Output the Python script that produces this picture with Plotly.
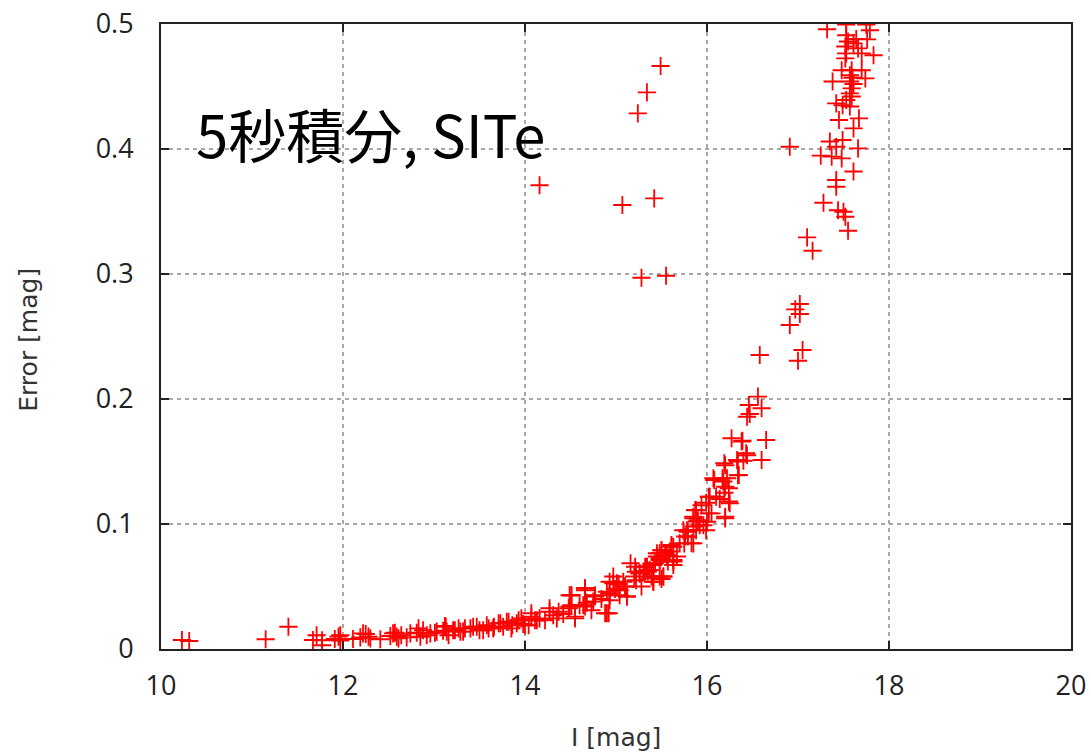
import plotly.graph_objects as go

# Photometric error vs I magnitude (5 s integration, SITe CCD)
i_mag = [
    10.23, 10.31, 11.15, 11.40, 11.67, 11.71, 11.77, 11.77, 11.91, 11.95, 11.97, 11.97,
    12.11, 12.19, 12.25, 12.30, 12.41, 12.52, 12.57, 12.61, 12.70, 12.81, 12.85, 12.88,
    12.92, 13.01, 13.10, 13.13, 13.16, 13.23, 13.29, 13.34,
    12.22, 12.28, 12.55, 12.59, 12.64, 12.74, 12.83, 12.96, 13.03, 13.12, 13.14, 13.21,
    13.27, 13.32, 13.40, 13.47, 13.54, 13.58, 13.65, 13.71, 13.76, 13.82, 13.85, 13.91,
    13.96, 14.00,
    13.43, 13.50, 13.60, 13.66, 13.73, 13.80, 13.86, 13.93, 13.98, 14.04, 14.07, 14.11,
    14.16, 14.22, 14.27, 14.31, 14.37, 14.42, 14.48, 14.51, 14.55, 14.60, 14.66, 14.68,
    14.73, 14.77, 14.88, 14.90, 14.93, 14.97, 14.99, 15.04, 15.08, 15.10, 15.12, 15.16,
    15.20, 15.26, 15.28, 15.32, 15.35, 15.39, 15.41, 15.45, 15.48, 15.50, 15.54, 15.57,
    15.61, 15.63, 15.67, 15.74, 15.79, 15.83, 15.85, 15.92, 15.99,
    14.07, 14.13, 14.27, 14.35, 14.49, 14.51, 14.55, 14.66, 14.66, 14.77, 14.75, 14.92,
    14.93, 14.93, 15.01, 15.04, 15.12, 15.21, 15.26, 15.34, 15.41, 15.43, 15.52, 15.50,
    15.56,
    16.56, 16.60, 16.46, 16.44, 16.47, 16.27, 16.39, 16.65, 16.43, 16.33, 16.40, 16.60,
    16.19, 16.35, 16.22, 16.17, 16.08, 16.20, 16.25, 16.19, 16.03, 16.10, 15.99, 15.87,
    15.85, 15.89, 16.00, 16.20, 16.05, 15.79, 15.85, 15.75, 15.61, 15.48, 15.45, 15.63,
    15.37, 15.30, 15.22, 15.48, 15.22, 15.10, 14.97, 14.93, 15.03, 14.84, 14.66, 14.64,
    14.51, 14.49, 14.90,
    16.38, 16.44, 16.34, 16.20, 16.34, 16.07, 16.18, 16.24, 16.02, 16.14, 16.24, 15.94,
    16.02, 15.88, 15.85, 16.20, 15.90, 15.96, 15.78, 15.88, 15.76, 15.70, 15.63, 15.59,
    15.50, 15.48, 15.63, 15.41, 15.34, 15.52, 15.32, 15.41,
    14.16, 15.49, 15.34, 15.24, 15.07, 15.42, 15.28, 15.55,
    17.32, 17.53, 17.75, 17.79, 17.53, 17.55, 17.64, 17.76, 17.61, 17.52, 17.66, 17.53,
    17.70, 17.83, 17.52, 17.48, 17.59, 17.70, 17.57, 17.60, 17.74, 17.38, 17.57, 17.61,
    17.59, 17.57, 17.59, 17.53, 17.42, 17.49, 17.57, 17.45, 17.67, 17.61, 16.91, 17.35,
    17.49, 17.42, 17.66, 17.25, 17.37, 17.48, 17.61, 17.42, 17.42, 17.28, 17.44, 17.50,
    17.52, 17.55, 17.10, 17.16, 17.02, 16.97, 17.02, 16.91, 17.05, 16.58, 17.00,
]
error_mag = [
    0.0072, 0.0064, 0.0078, 0.0178, 0.0072, 0.0110, 0.0070, 0.0030, 0.0080, 0.0099, 0.0110, 0.0067,
    0.0080, 0.0093, 0.0120, 0.0085, 0.0078, 0.0104, 0.0130, 0.0085, 0.0093, 0.0130, 0.0098, 0.0150,
    0.0110, 0.0130, 0.0146, 0.0178, 0.0110, 0.0150, 0.0139, 0.0165,
    0.0125, 0.0099, 0.0125, 0.0099, 0.0110, 0.0125, 0.0165, 0.0125, 0.0139, 0.0184, 0.0139, 0.0150,
    0.0165, 0.0139, 0.0165, 0.0178, 0.0150, 0.0190, 0.0165, 0.0206, 0.0178, 0.0218, 0.0165, 0.0206,
    0.0245, 0.0190,
    0.0178, 0.0150, 0.0165, 0.0178, 0.0206, 0.0218, 0.0190, 0.0230, 0.0200, 0.0190, 0.0259, 0.0230,
    0.0245, 0.0230, 0.0326, 0.0270, 0.0298, 0.0280, 0.0326, 0.0430, 0.0245, 0.0350, 0.0486, 0.0370,
    0.0310, 0.0420, 0.0286, 0.0458, 0.0390, 0.0526, 0.0480, 0.0430, 0.0538, 0.0500, 0.0420, 0.0686,
    0.0580, 0.0605, 0.0500, 0.0658, 0.0620, 0.0580, 0.0538, 0.0766, 0.0712, 0.0560, 0.0766, 0.0700,
    0.0818, 0.0672, 0.0740, 0.0950, 0.0900, 0.0846, 0.0980, 0.0990, 0.0950,
    0.0286, 0.0230, 0.0298, 0.0245, 0.0430, 0.0350, 0.0259, 0.0486, 0.0340, 0.0430, 0.0380, 0.0286,
    0.0538, 0.0430, 0.0526, 0.0470, 0.0420, 0.0658, 0.0605, 0.0658, 0.0565, 0.0686, 0.0580, 0.0790,
    0.0750,
    0.2019, 0.1926, 0.1952, 0.1858, 0.1880, 0.1686, 0.1666, 0.1672, 0.1566, 0.1512, 0.1506, 0.1512,
    0.1486, 0.1392, 0.1366, 0.1366, 0.1352, 0.1298, 0.1166, 0.1250, 0.1218, 0.1218, 0.1170, 0.1112,
    0.1058, 0.1020, 0.1018, 0.1058, 0.1085, 0.0938, 0.0845, 0.0845, 0.0832, 0.0766, 0.0740, 0.0712,
    0.0632, 0.0620, 0.0618, 0.0580, 0.0550, 0.0500, 0.0580, 0.0446, 0.0520, 0.0400, 0.0470, 0.0350,
    0.0430, 0.0340, 0.0286,
    0.1660, 0.1550, 0.1500, 0.1470, 0.1390, 0.1366, 0.1340, 0.1286, 0.1218, 0.1200, 0.1180, 0.1150,
    0.1085, 0.1110, 0.1045, 0.1045, 0.1030, 0.0990, 0.0950, 0.0950, 0.0900, 0.0845, 0.0818, 0.0780,
    0.0790, 0.0726, 0.0700, 0.0672, 0.0658, 0.0580, 0.0620, 0.0538,
    0.3710, 0.4664, 0.4453, 0.4285, 0.3552, 0.3605, 0.2970, 0.2986,
    0.4958, 0.4995, 0.4995, 0.4950, 0.4910, 0.4860, 0.4880, 0.4877, 0.4845, 0.4820, 0.4805, 0.4765,
    0.4765, 0.4750, 0.4725, 0.4630, 0.4630, 0.4630, 0.4590, 0.4570, 0.4565, 0.4540, 0.4540, 0.4520,
    0.4485, 0.4445, 0.4420, 0.4392, 0.4365, 0.4350, 0.4340, 0.4232, 0.4245, 0.4165, 0.4018, 0.4060,
    0.4072, 0.4018, 0.4005, 0.3947, 0.3939, 0.3925, 0.3820, 0.3752, 0.3698, 0.3570, 0.3510, 0.3498,
    0.3458, 0.3346, 0.3293, 0.3186, 0.2760, 0.2717, 0.2680, 0.2592, 0.2392, 0.2352, 0.2306,
]

x_ticks = [10, 12, 14, 16, 18, 20]
y_ticks = [0, 0.1, 0.2, 0.3, 0.4, 0.5]
y_tick_text = ["0", "0.1", "0.2", "0.3", "0.4", "0.5"]

tick_font = dict(family="Open Sans", size=27, color="#222222")
title_font = dict(family="DejaVu Sans", size=25, color="#333333")

fig = go.Figure()
fig.add_trace(go.Scatter(
    x=i_mag, y=error_mag, mode="markers",
    marker=dict(symbol="cross-thin", size=13, line=dict(color="#ff0000", width=1.8)),
    cliponaxis=True, showlegend=False,
))

axis_common = dict(
    showline=True, linecolor="#222222", linewidth=2, mirror="ticks",
    ticks="inside", ticklen=8, tickwidth=2, tickcolor="#222222",
    showgrid=True, gridcolor="#a8a8a8", gridwidth=1.5, griddash="4px,4px",
    zeroline=False, tickfont=tick_font, automargin=False,
)

fig.update_xaxes(range=[10, 20], tickvals=x_ticks, ticklabelstandoff=12, **axis_common)
fig.update_yaxes(range=[0, 0.5], tickvals=y_ticks, ticktext=y_tick_text,
                 ticklabelstandoff=20, **axis_common)

fig.add_annotation(text="I [mag]", xref="paper", yref="paper", x=0.5, y=-0.142,
                   xanchor="center", yanchor="middle", showarrow=False, font=title_font)
fig.add_annotation(text="Error [mag]", xref="paper", yref="paper", x=-0.146, y=0.495,
                   xanchor="center", yanchor="middle", showarrow=False, textangle=-90,
                   font=title_font)
fig.add_annotation(text="5秒積分, SITe", xref="paper", yref="paper", x=0.036, y=0.825,
                   xanchor="left", yanchor="middle", showarrow=False,
                   font=dict(family="Noto Sans CJK JP", size=58, color="#000000"))

fig.update_layout(
    width=1091, height=752,
    margin=dict(l=161, r=20, t=24, b=103),
    paper_bgcolor="white", plot_bgcolor="white",
)

fig.write_html("out.html")
